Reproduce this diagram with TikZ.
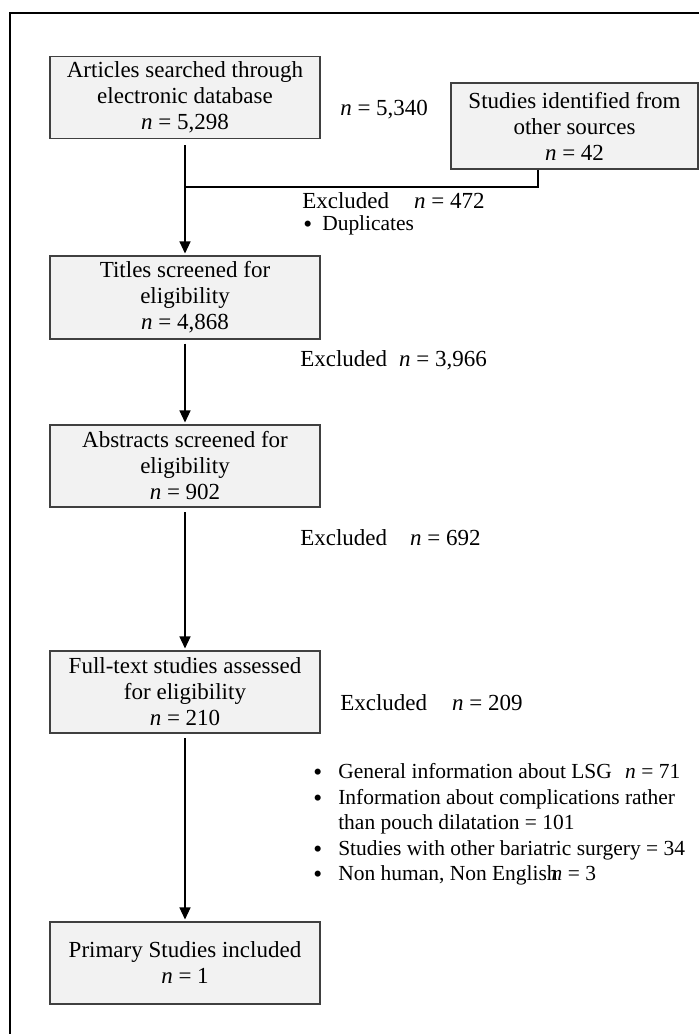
\documentclass[tikz,border=0pt]{standalone}
\usepackage{fontspec}
\setmainfont{Liberation Serif}
\usetikzlibrary{arrows.meta}
\definecolor{boxfill}{HTML}{F2F2F2}
\definecolor{boxline}{HTML}{404040}
\begin{document}
\begin{tikzpicture}[x=0.75pt,y=-0.75pt,
  every node/.style={font=\fontsize{17.25}{19.5}\selectfont},
  flowbox/.style={draw=boxline, fill=boxfill, line width=0.8pt, align=center,
    inner sep=0pt, minimum width=202.5pt, minimum height=61.5pt},
  conn/.style={line width=0.9pt},
  arr/.style={conn, -{Triangle[width=8.25pt,length=9pt]}, shorten >=1.5pt},
  lbl/.style={anchor=base west, inner sep=0pt},
  listlbl/.style={lbl, font=\fontsize{16.1}{19}\selectfont},
  dotlbl/.style={lbl, font=\fontsize{19}{19}\selectfont}]
\useasboundingbox (0,0) rectangle (699,1034);
\draw[line width=0.9pt] (10,1034) -- (10,13) -- (699,13);

% boxes
\node[flowbox] (b1) at (185,97.5) {Articles searched through\\electronic database\\\textit{n} = 5,298};
\node[flowbox, minimum width=185.25pt, minimum height=64.5pt] (b2) at (574.5,126) {Studies identified from\\other sources\\\textit{n} = 42};
\node[flowbox, minimum height=62.25pt] (b3) at (185,297.5) {Titles screened for\\eligibility\\\textit{n} = 4,868};
\node[flowbox] (b4) at (185,466) {Abstracts screened for\\eligibility\\\textit{n} = 902};
\node[flowbox] (b5) at (185,692) {Full-text studies assessed\\for eligibility\\\textit{n} = 210};
\node[flowbox] (b6) at (185,963) {Primary Studies included\\\textit{n} = 1};

% labels
\node[lbl] (tot) at (340,116) {\textit{n} = 5,340};
\node[lbl] (ex1) at (302,209) {Excluded\hspace{18.75pt}\textit{n} = 472};
\node[dotlbl] (dupb) at (303,233) {\textbullet};
\node[listlbl] (dup) at (322,231) {Duplicates};
\node[lbl] (ex2) at (300,366) {Excluded\hspace{9pt}\textit{n} = 3,966};
\node[lbl] (ex3) at (300,545) {Excluded\hspace{17.25pt}\textit{n} = 692};
\node[lbl] (ex4) at (340,710) {Excluded\hspace{18.75pt}\textit{n} = 209};

\node[dotlbl] (bb1) at (313,780) {\textbullet};
\node[listlbl] (bt1) at (338,778) {General information about LSG\hspace{10pt}\textit{n} = 71};
\node[dotlbl] (bb2) at (313,806) {\textbullet};
\node[listlbl] (bt2) at (338,804) {Information about complications rather};
\node[listlbl] (bt2b) at (338,829) {than pouch dilatation = 101};
\node[dotlbl] (bb3) at (313,857) {\textbullet};
\node[listlbl] (bt3) at (338,855) {Studies with other bariatric surgery = 34};
\node[dotlbl] (bb4) at (313,882) {\textbullet};
\node[listlbl] (bt4) at (338,880) {Non human, Non English\kern-4.5pt\textit{n} = 3};

% connectors
\coordinate (j) at (185,187);
\coordinate (k) at (538,187);
\draw[conn] (b2.south -| k) -- (k) -- (j);
\draw[arr] ([yshift=-4.5pt]b1.south) -- (b3.north);
\draw[arr] ([yshift=-3pt]b3.south) -- (b4.north);
\draw[arr] ([yshift=-3.5pt]b4.south) -- (b5.north);
\draw[arr] ([yshift=-3.5pt]b5.south) -- (b6.north);
\end{tikzpicture}
\end{document}
